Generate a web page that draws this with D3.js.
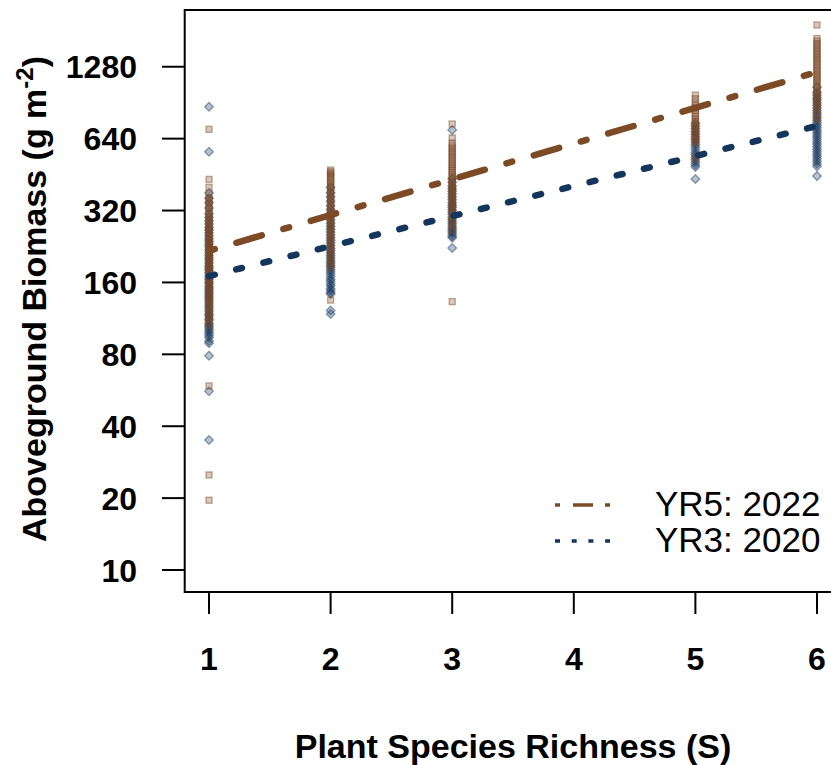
<!DOCTYPE html>
<html>
<head>
<meta charset="utf-8">
<script src="https://cdn.jsdelivr.net/npm/d3@7"></script>
<style>
  body { margin: 0; background: #fff; }
  text { font-family: "Liberation Sans", Arial, sans-serif; fill: #000; }
</style>
</head>
<body>
<script>

// DATA
var richnessTicks = [1, 2, 3, 4, 5, 6];
var biomassTicks = [10, 20, 40, 80, 160, 320, 640, 1280];
var seriesNames = ["YR5: 2022", "YR3: 2020"];

// aboveground biomass (g m-2) per plot, YR5: 2022
var yr5_s1 = [700, 432, 400, 372, 360, 352, 342, 335, 326, 318, 310, 302, 296, 290, 284, 278, 272, 266, 260, 255, 250, 245, 240, 236, 232, 228, 224, 220, 216, 212, 208, 205, 201, 198, 194, 191, 188, 185, 181, 178, 174, 171, 167, 164, 161, 158, 155, 152, 149, 146, 143, 140, 137, 134, 131, 128, 125, 122, 119, 116, 113, 110, 106, 59, 25, 19.6];
var yr5_s2 = [473, 465, 458, 450, 442, 434, 425, 416, 408, 400, 392, 384, 376, 368, 360, 352, 345, 338, 330, 323, 316, 310, 303, 296, 290, 284, 278, 272, 266, 260, 254, 248, 242, 236, 230, 224, 218, 212, 206, 200, 195, 190, 185, 135];
var yr5_s3 = [737, 644, 613, 598, 585, 572, 560, 548, 535, 524, 512, 500, 490, 480, 470, 460, 450, 441, 432, 423, 415, 406, 398, 390, 382, 374, 366, 358, 350, 343, 336, 329, 322, 313, 305, 295, 285, 275, 265, 133];
var yr5_s5 = [974, 940, 905, 880, 860, 838, 815, 795, 775, 757, 740, 722, 705, 690, 675, 660, 645, 630, 615, 531];
var yr5_s6 = [1914, 1680, 1640, 1600, 1565, 1530, 1495, 1460, 1430, 1400, 1370, 1340, 1310, 1280, 1250, 1225, 1195, 1170, 1145, 1120, 1095, 1070, 1045, 1020, 997, 975, 952, 930, 907, 885, 862, 840, 800, 770];

// YR3: 2020
var yr3_s1 = [871, 564, 380, 360, 345, 328, 310, 300, 290, 281, 272, 265, 258, 251, 244, 238, 232, 226, 220, 214, 208, 203, 198, 193, 188, 184, 180, 176, 172, 168, 165, 161, 158, 154, 151, 148, 145, 142, 139, 136, 133, 130, 127, 124, 121, 118, 116, 113, 111, 108, 106, 104, 102, 100, 98, 96, 94, 91, 89, 79, 56, 35];
var yr3_s2 = [400, 380, 365, 350, 335, 323, 312, 302, 292, 283, 275, 267, 260, 253, 246, 240, 234, 228, 222, 217, 212, 207, 202, 197, 193, 189, 185, 181, 177, 173, 169, 165, 162, 158, 155, 151, 148, 145, 143, 122, 118];
var yr3_s3 = [695, 435, 420, 405, 395, 385, 375, 365, 355, 345, 337, 330, 322, 315, 308, 300, 294, 288, 282, 276, 270, 265, 260, 255, 250, 246, 223];
var yr3_s5 = [744, 725, 705, 685, 667, 650, 635, 620, 605, 590, 575, 560, 548, 535, 522, 510, 498, 487, 434];
var yr3_s6 = [1050, 1000, 975, 950, 928, 905, 882, 860, 840, 820, 800, 780, 762, 745, 728, 712, 696, 680, 665, 650, 635, 620, 606, 592, 578, 565, 552, 540, 527, 515, 502, 490, 446];

// fitted (log-linear) biomass at S = 1 and S = 6
var fitS = [1, 6];
var fitYR5 = [217, 1216];
var fitYR3 = [170, 723];

var brown = "#7d4a26",
    navy = "#15365c";

var width = 831,
    height = 765;

var svg = d3.select("body").append("svg")
    .attr("width", width)
    .attr("height", height);

var x = d3.scaleLinear().domain([0.8, 6.2]).range([184.7, 841.3]);
var y = d3.scaleLog().domain([8.09, 2212]).range([592, 10]);

function toPoints(S, vals) {
  return vals.map(function(v) { return { s: S, v: v }; });
}

var pts5 = [].concat(toPoints(1, yr5_s1), toPoints(2, yr5_s2), toPoints(3, yr5_s3),
                     toPoints(5, yr5_s5), toPoints(6, yr5_s6));
var pts3 = [].concat(toPoints(1, yr3_s1), toPoints(2, yr3_s2), toPoints(3, yr3_s3),
                     toPoints(5, yr3_s5), toPoints(6, yr3_s6));

// points (2020 underneath, 2022 on top)
svg.append("g").selectAll("path")
    .data(pts3)
  .enter().append("path")
    .attr("d", function(d) {
      var cx = x(d.s), cy = y(d.v), r = 4.3;
      return "M" + cx + "," + (cy - r) + "L" + (cx + r) + "," + cy +
             "L" + cx + "," + (cy + r) + "L" + (cx - r) + "," + cy + "Z";
    })
    .attr("fill", navy)
    .attr("fill-opacity", 0.3)
    .attr("stroke", navy)
    .attr("stroke-opacity", 0.45)
    .attr("stroke-width", 1.4);

svg.append("g").selectAll("rect")
    .data(pts5)
  .enter().append("rect")
    .attr("x", function(d) { return x(d.s) - 3; })
    .attr("y", function(d) { return y(d.v) - 3; })
    .attr("width", 6)
    .attr("height", 6)
    .attr("fill", brown)
    .attr("fill-opacity", 0.3)
    .attr("stroke", brown)
    .attr("stroke-opacity", 0.45)
    .attr("stroke-width", 1.4);

// fitted lines
var line = d3.line()
    .x(function(d) { return x(d[0]); })
    .y(function(d) { return y(d[1]); });

svg.append("path")
    .attr("d", line(d3.zip(fitS, fitYR5)))
    .attr("fill", "none")
    .attr("stroke", brown)
    .attr("stroke-width", 6.5)
    .attr("stroke-linecap", "round")
    .attr("stroke-dasharray", "6,22.5,26.5,22.5");

svg.append("path")
    .attr("d", line(d3.zip(fitS, fitYR3)))
    .attr("fill", "none")
    .attr("stroke", navy)
    .attr("stroke-width", 6.5)
    .attr("stroke-linecap", "round")
    .attr("stroke-dasharray", "6,22");

// box
svg.append("rect")
    .attr("x", 184.7)
    .attr("y", 10)
    .attr("width", 700)
    .attr("height", 582)
    .attr("fill", "none")
    .attr("stroke", "#000")
    .attr("stroke-width", 2);

// x axis
var xAxis = svg.append("g");
xAxis.selectAll("line")
    .data(richnessTicks)
  .enter().append("line")
    .attr("x1", function(d) { return x(d); })
    .attr("x2", function(d) { return x(d); })
    .attr("y1", 592)
    .attr("y2", 614)
    .attr("stroke", "#000")
    .attr("stroke-width", 2);
xAxis.selectAll("text")
    .data(richnessTicks)
  .enter().append("text")
    .attr("x", function(d) { return x(d); })
    .attr("y", 670)
    .attr("text-anchor", "middle")
    .style("font-size", "32px")
    .style("font-weight", "bold")
    .text(function(d) { return d; });

// y axis
var yAxis = svg.append("g");
yAxis.selectAll("line")
    .data(biomassTicks)
  .enter().append("line")
    .attr("x1", 162)
    .attr("x2", 184.7)
    .attr("y1", function(d) { return y(d); })
    .attr("y2", function(d) { return y(d); })
    .attr("stroke", "#000")
    .attr("stroke-width", 2);
yAxis.selectAll("text")
    .data(biomassTicks)
  .enter().append("text")
    .attr("x", 137)
    .attr("y", function(d) { return y(d); })
    .attr("dy", "0.36em")
    .attr("text-anchor", "end")
    .style("font-size", "32px")
    .style("font-weight", "bold")
    .text(function(d) { return d; });

// axis titles
svg.append("text")
    .attr("x", 513)
    .attr("y", 758)
    .attr("text-anchor", "middle")
    .style("font-size", "34px")
    .style("font-weight", "bold")
    .text("Plant Species Richness (S)");

var yt = svg.append("text")
    .attr("transform", "translate(46,299) rotate(-90)")
    .attr("text-anchor", "middle")
    .style("font-size", "34px")
    .style("font-weight", "bold");
yt.append("tspan").text("Aboveground Biomass (g m");
yt.append("tspan").attr("dy", -13).style("font-size", "24px").text("-2");
yt.append("tspan").attr("dy", 13).text(")");

// legend
var legend = svg.append("g");
var legendY = [505, 541];
legend.append("line")
    .attr("x1", 555).attr("x2", 610)
    .attr("y1", legendY[0]).attr("y2", legendY[0])
    .attr("stroke", brown)
    .attr("stroke-width", 3.5)
    .attr("stroke-dasharray", "5,13,20,12");
legend.append("line")
    .attr("x1", 555).attr("x2", 610)
    .attr("y1", legendY[1]).attr("y2", legendY[1])
    .attr("stroke", navy)
    .attr("stroke-width", 3.5)
    .attr("stroke-dasharray", "5,11.7");
legend.selectAll("text")
    .data(seriesNames)
  .enter().append("text")
    .attr("x", 655)
    .attr("y", function(d, i) { return legendY[i] + 11; })
    .style("font-size", "35px")
    .text(function(d) { return d; });

</script>
</body>
</html>
